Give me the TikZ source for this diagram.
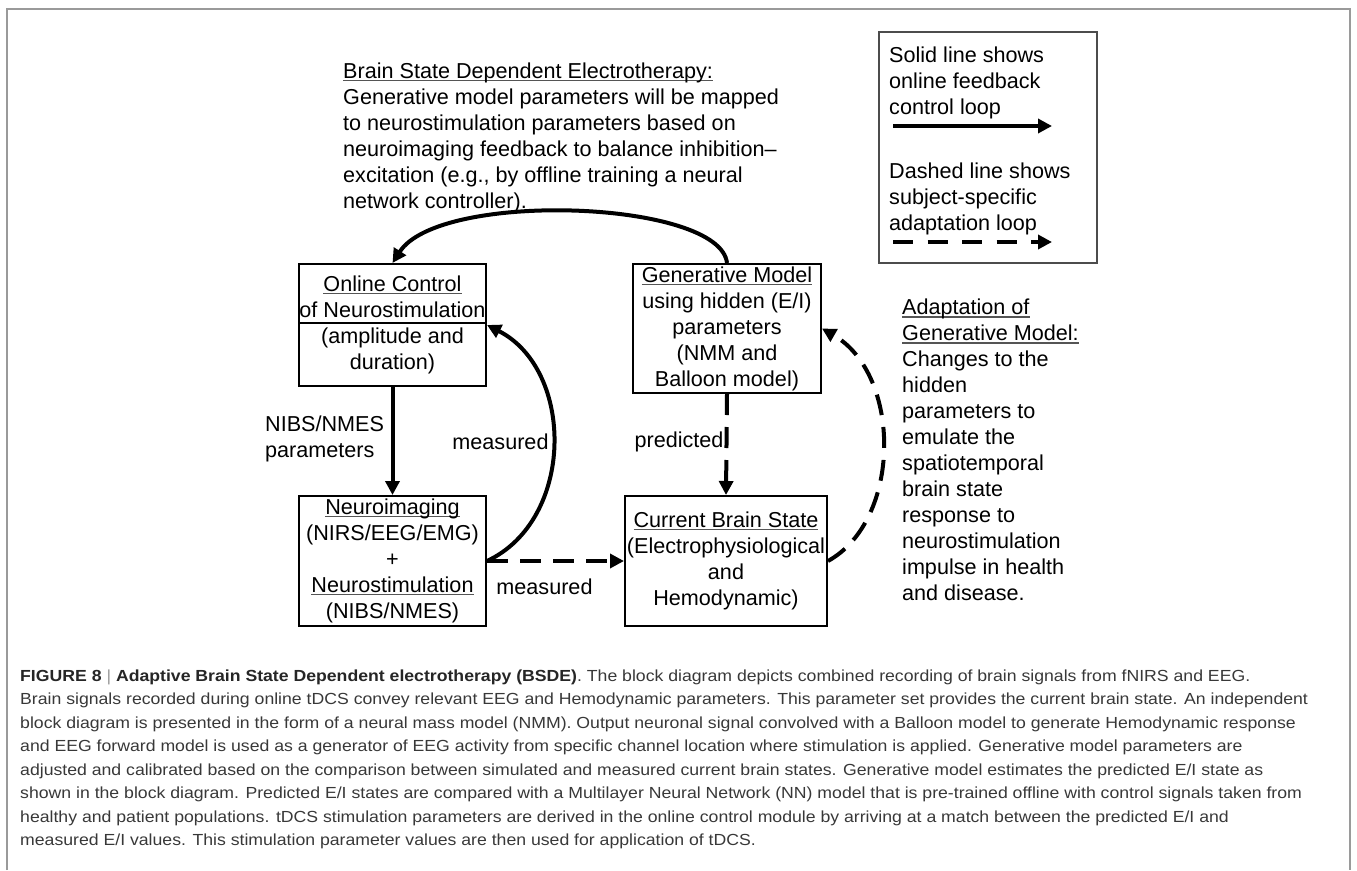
\documentclass[tikz,border=0pt]{standalone}
\usepackage{fontspec}
\setmainfont{Liberation Sans}
\newfontfamily\capfont[FakeStretch=1.1]{Liberation Sans}
\usetikzlibrary{arrows.meta}
\definecolor{framegray}{HTML}{9A9A9A}
\definecolor{captext}{HTML}{383838}
\definecolor{undlcol}{HTML}{555555}
\newcommand\dfont{\fontsize{21.6}{26}\selectfont}
\newcommand\undl[1]{\setbox0\hbox{#1}\rlap{\color{undlcol}\rule[-2.8pt]{\wd0}{1.1pt}}\box0}
\tikzset{
  box/.style={draw=black, line width=2pt, inner sep=0pt, align=center, font=\dfont},
  lbl/.style={inner sep=0pt, align=left, font=\dfont},
  solidarrow/.style={line width=4pt, -{Triangle[length=14pt,width=14pt]}},
  dasharrow/.style={solidarrow, dash pattern=on 21pt off 12pt},
  capline/.style={anchor=west, inner sep=0pt, text height=11.5pt, text depth=3.5pt,
    font=\capfont\fontsize{16.05}{18}\selectfont, text=captext},
}
\begin{document}
\begin{tikzpicture}[x=1pt,y=-1pt]
\useasboundingbox (0,0) rectangle (1357,870);
% outer frame
\draw[framegray, line width=1.5pt] (7,870) -- (7,9) -- (1350,9) -- (1350,870);

% title text
\node[lbl, anchor=west] (title) at (343,137.5) {\undl{Brain State Dependent Electrotherapy:}\\
Generative model parameters will be mapped\\
to neurostimulation parameters based on\\
neuroimaging feedback to balance inhibition–\\
excitation (e.g., by offline training a neural\\
network controller).};

% legend
\node[draw=black!70, line width=1.5pt, minimum width=218pt, minimum height=231pt] (leg) at (988,147.5) {};
\node[lbl, anchor=west] (legs) at (889,83) {Solid line shows\\online feedback\\control loop};
\node[lbl, anchor=west] (legd) at (889,199) {Dashed line shows\\subject-specific\\adaptation loop};
\coordinate (ls1) at (893,126);
\coordinate (ls2) at (1052,126);
\coordinate (ld1) at (893,242);
\coordinate (ld2) at (1052,242);
\draw[solidarrow] (ls1) -- (ls2);
\draw[solidarrow, dash pattern=on 20pt off 14.5pt] (ld1) -- (ld2);

% boxes
\node[box, minimum width=187pt, minimum height=122pt] (oc) at (392.5,325)
  {\undl{Online Control}\\of Neurostimulation\\(amplitude and\\duration)};
\draw[line width=1.5pt] (oc.west |- 0,323) -- (oc.east |- 0,323);
\node[box, minimum width=187pt, minimum height=130pt] (ni) at (392.5,561)
  {\undl{Neuroimaging}\\(NIRS/EEG/EMG)\\+\\\undl{Neurostimulation}\\(NIBS/NMES)};
\node[box, minimum width=188pt, minimum height=129pt] (gm) at (727,328.5)
  {\undl{Generative Model}\\using hidden (E/I)\\parameters\\(NMM and\\Balloon model)};
\node[box, minimum width=202pt, minimum height=130pt] (cb) at (726,561)
  {\undl{Current Brain State}\\(Electrophysiological\\and\\Hemodynamic)};

% connectors
\draw[solidarrow] (gm.north) .. controls +(-7,-63) and +(47,-73) .. (oc.north);
\draw[solidarrow] (oc.south) -- (ni.north);
\draw[solidarrow] (ni.east) .. controls +(88,-41) and +(88,45) .. (oc.east);
\draw[dasharrow] (ni.east) -- (cb.west);
\draw[dasharrow] (gm.south) -- (cb.north);
\draw[dasharrow] (cb.east) .. controls +(74,-41) and +(80,46) .. (gm.east);

% labels
\node[lbl, anchor=west] (lnibs) at (265,439) {NIBS/NMES\\parameters};
\node[lbl] (lmeas1) at (500.5,442) {measured};
\node[lbl] (lmeas2) at (544.5,587) {measured};
\node[lbl] (lpred) at (679,442) {predicted};

% adaptation text
\node[lbl, anchor=west] (adapt) at (902,450) {\undl{Adaptation of}\\
\undl{Generative Model:}\\
Changes to the\\
hidden\\
parameters to\\
emulate the\\
spatiotemporal\\
brain state\\
response to\\
neurostimulation\\
impulse in health\\
and disease.};

% caption
\node[capline] (cap1) at (20,677) {\textbf{\color{black!85}FIGURE 8} {\color{black!40}|} \textbf{\color{black!85}Adaptive Brain State Dependent electrotherapy (BSDE)}. The block diagram depicts combined recording of brain signals from fNIRS and EEG.};
\node[capline] (cap2) at (20,700.5) {Brain signals recorded during online tDCS convey relevant EEG and Hemodynamic parameters. This parameter set provides the current brain state. An independent};
\node[capline] (cap3) at (20,724) {block diagram is presented in the form of a neural mass model (NMM). Output neuronal signal convolved with a Balloon model to generate Hemodynamic response};
\node[capline] (cap4) at (20,747.5) {and EEG forward model is used as a generator of EEG activity from specific channel location where stimulation is applied. Generative model parameters are};
\node[capline] (cap5) at (20,771) {adjusted and calibrated based on the comparison between simulated and measured current brain states. Generative model estimates the predicted E/I state as};
\node[capline] (cap6) at (20,794.5) {shown in the block diagram. Predicted E/I states are compared with a Multilayer Neural Network (NN) model that is pre-trained offline with control signals taken from};
\node[capline] (cap7) at (20,818) {healthy and patient populations. tDCS stimulation parameters are derived in the online control module by arriving at a match between the predicted E/I and};
\node[capline] (cap8) at (20,841.5) {measured E/I values. This stimulation parameter values are then used for application of tDCS.};
\end{tikzpicture}
\end{document}
